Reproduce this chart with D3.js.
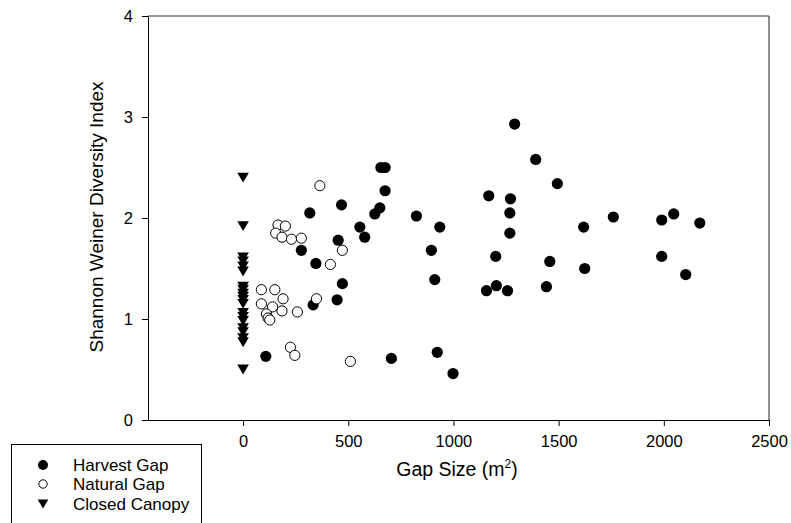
<!DOCTYPE html>
<html>
<head>
<meta charset="utf-8">
<script src="https://cdn.jsdelivr.net/npm/d3@7"></script>
<style>
  body { margin: 0; background: #fff; }
  text { font-family: "Liberation Sans", Arial, sans-serif; fill: #000; }
</style>
</head>
<body>
<svg width="791" height="523"></svg>
<script>
// harvest gaps: gap size (m2) and diversity index
var harvestX = [108, 277, 317, 333, 346, 447, 452, 468, 472, 555, 578, 626, 650, 655, 675, 675, 705,
  824, 895, 911, 923, 935, 998, 1157, 1168, 1201, 1204, 1257, 1268, 1268, 1271, 1291, 1391, 1442,
  1458, 1494, 1619, 1624, 1760, 1990, 1990, 2047, 2104, 2171];
var harvestY = [0.63, 1.68, 2.05, 1.14, 1.55, 1.19, 1.78, 2.13, 1.35, 1.91, 1.81, 2.04, 2.10, 2.50, 2.50, 2.27, 0.61,
  2.02, 1.68, 1.39, 0.67, 1.91, 0.46, 1.28, 2.22, 1.62, 1.33, 1.28, 2.05, 1.85, 2.19, 2.93, 2.58, 1.32,
  1.57, 2.34, 1.91, 1.50, 2.01, 1.98, 1.62, 2.04, 1.44, 1.95];

var naturalX = [365, 166, 201, 155, 185, 230, 277, 472, 415, 87, 151, 190, 349, 87, 140, 185, 258,
  111, 119, 127, 225, 246, 510];
var naturalY = [2.32, 1.93, 1.92, 1.85, 1.81, 1.79, 1.80, 1.68, 1.54, 1.29, 1.29, 1.20, 1.20, 1.15, 1.12, 1.08, 1.07,
  1.05, 1.01, 0.99, 0.72, 0.64, 0.58];

var canopyX = [0, 0, 0, 0, 0, 0, 0, 0, 0, 0, 0, 0, 0, 0, 0, 0, 0, 0, 0, 0];
var canopyY = [2.40, 1.92, 1.61, 1.57, 1.52, 1.47, 1.32, 1.29, 1.25, 1.22, 1.19, 1.15, 1.06, 1.02, 0.98,
  0.91, 0.87, 0.81, 0.77, 0.50];

var xTicks = [0, 500, 1000, 1500, 2000, 2500];
var yTicks = [0, 1, 2, 3, 4];
var legendLabels = ['Harvest Gap', 'Natural Gap', 'Closed Canopy'];

var svg = d3.select('svg');
var x = d3.scaleLinear().domain([-452, 2500]).range([148, 769]);
var y = d3.scaleLinear().domain([0, 4]).range([420, 16]);

// frame top / right
svg.append('line').attr('x1', 148).attr('x2', 769).attr('y1', 16).attr('y2', 16)
  .attr('stroke', '#777').attr('stroke-width', 1.5);
svg.append('line').attr('x1', 769).attr('x2', 769).attr('y1', 16).attr('y2', 420)
  .attr('stroke', '#444').attr('stroke-width', 1.2);

var fmt = d3.format('d');
var xAxis = svg.append('g').attr('transform', 'translate(0,420)')
  .call(d3.axisBottom(x).tickValues(xTicks).tickFormat(fmt).tickSize(6).tickPadding(9).tickSizeOuter(0));
var yAxis = svg.append('g').attr('transform', 'translate(148,0)')
  .call(d3.axisLeft(y).tickValues(yTicks).tickFormat(fmt).tickSize(6).tickPadding(9).tickSizeOuter(0));
[xAxis, yAxis].forEach(function (a) {
  a.selectAll('text').style('font-family', '"Liberation Sans", Arial, sans-serif').style('font-size', '16.5px');
  a.select('.domain').attr('stroke', '#000');
});

var harvest = harvestX.map(function (d, i) { return { x: d, y: harvestY[i] }; });
var natural = naturalX.map(function (d, i) { return { x: d, y: naturalY[i] }; });
var canopy = canopyX.map(function (d, i) { return { x: d, y: canopyY[i] }; });

svg.append('g').selectAll('circle').data(harvest).enter().append('circle')
  .attr('cx', function (d) { return x(d.x); })
  .attr('cy', function (d) { return y(d.y); })
  .attr('r', 5.6).attr('fill', '#000');

svg.append('g').selectAll('circle').data(natural).enter().append('circle')
  .attr('cx', function (d) { return x(d.x); })
  .attr('cy', function (d) { return y(d.y); })
  .attr('r', 5.1).attr('fill', '#fff').attr('stroke', '#000').attr('stroke-width', 1);

function tri(cx, cy, s) {
  return 'M' + (cx - s) + ',' + (cy - s * 0.85) + 'L' + (cx + s) + ',' + (cy - s * 0.85) +
    'L' + cx + ',' + (cy + s * 0.85) + 'Z';
}
svg.append('g').selectAll('path').data(canopy).enter().append('path')
  .attr('d', function (d) { return tri(x(d.x), y(d.y), 5.8); })
  .attr('fill', '#000');

// axis titles
var xt = svg.append('text').attr('x', 457).attr('y', 476).attr('text-anchor', 'middle')
  .style('font-size', '19.5px');
xt.append('tspan').text('Gap Size (m');
xt.append('tspan').attr('dy', -8).style('font-size', '12px').text('2');
xt.append('tspan').attr('dy', 8).text(')');

svg.append('text').attr('transform', 'translate(103,217) rotate(-90)')
  .attr('text-anchor', 'middle').style('font-size', '19px')
  .text('Shannon Weiner Diversity Index');

// legend
var lg = svg.append('g');
lg.append('rect').attr('x', 11.5).attr('y', 444.5).attr('width', 190).attr('height', 100)
  .attr('fill', '#fff').attr('stroke', '#000').attr('stroke-width', 1);
var rowY = [465, 484, 504];
lg.append('circle').attr('cx', 43).attr('cy', rowY[0]).attr('r', 5).attr('fill', '#000');
lg.append('circle').attr('cx', 43).attr('cy', rowY[1]).attr('r', 4.2).attr('fill', '#fff').attr('stroke', '#000');
lg.append('path').attr('d', tri(43, rowY[2], 5.3)).attr('fill', '#000');
lg.selectAll('text').data(legendLabels).enter().append('text')
  .attr('x', 73).attr('y', function (d, i) { return rowY[i] + 6; })
  .style('font-size', '17px').text(function (d) { return d; });
</script>
</body>
</html>
